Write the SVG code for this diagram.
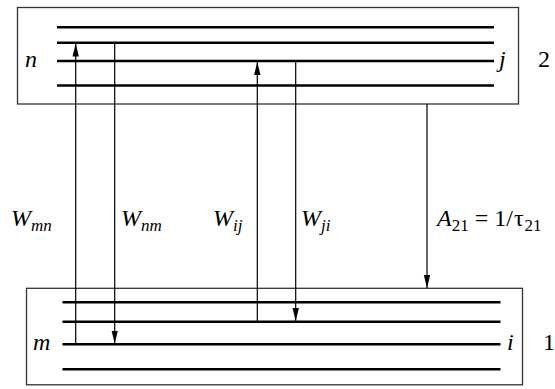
<svg xmlns="http://www.w3.org/2000/svg" width="555" height="389" viewBox="0 0 555 389">
<style>
.box{fill:#fff;stroke:#333;stroke-width:1.3}
.lvl{stroke:#000;stroke-width:2.6}
.arr{stroke:#000;stroke-width:1.2;fill:none}
.t{font-family:"Liberation Serif","DejaVu Serif","Noto Serif",serif;fill:#000}
.it{font-style:italic;font-size:24px}
.num{font-size:24px;font-style:normal}
.sub{font-size:17px}
</style>
<defs>
<marker id="ah" markerUnits="userSpaceOnUse" markerWidth="14" markerHeight="8" viewBox="-13 -4 14 8" refX="0" refY="0" orient="auto">
<path d="M0,0 L-13,-3.2 L-13,3.2 Z" fill="#000"/>
</marker>
</defs>
<g id="level2">
<rect class="box" x="17.5" y="7.5" width="501" height="96.5"/>
<line class="lvl" x1="57" y1="27.3" x2="494" y2="27.3"/>
<line class="lvl" x1="57" y1="42.7" x2="494" y2="42.7"/>
<line class="lvl" x1="57" y1="61" x2="494" y2="61"/>
<line class="lvl" x1="57" y1="85.5" x2="494" y2="85.5"/>
<text class="t it" x="25" y="67">n</text>
<text class="t it" x="499" y="67">j</text>
<text class="t num" x="538" y="67">2</text>
</g>
<g id="level1">
<rect class="box" x="26.5" y="288.3" width="496" height="96.5"/>
<line class="lvl" x1="62.5" y1="302.3" x2="500.5" y2="302.3"/>
<line class="lvl" x1="62.5" y1="321.7" x2="500.5" y2="321.7"/>
<line class="lvl" x1="62.5" y1="344.3" x2="500.5" y2="344.3"/>
<line class="lvl" x1="62.5" y1="369.3" x2="500.5" y2="369.3"/>
<text class="t it" x="33" y="350">m</text>
<text class="t it" x="507" y="350">i</text>
<text class="t num" x="543" y="350">1</text>
</g>
<g id="connectors">
<line class="arr" x1="75.7" y1="344.3" x2="75.7" y2="43.5" marker-end="url(#ah)"/>
<line class="arr" x1="114.7" y1="42.7" x2="114.7" y2="343.5" marker-end="url(#ah)"/>
<line class="arr" x1="257.3" y1="321.7" x2="257.3" y2="62" marker-end="url(#ah)"/>
<line class="arr" x1="295.7" y1="61" x2="295.7" y2="321" marker-end="url(#ah)"/>
<line class="arr" x1="427" y1="104" x2="427" y2="288" marker-end="url(#ah)"/>
</g>
<g id="labels">
<text class="t it" x="11" y="226">W<tspan class="sub" dy="5">mn</tspan></text>
<text class="t it" x="121" y="226">W<tspan class="sub" dy="5">nm</tspan></text>
<text class="t it" x="213" y="226">W<tspan class="sub" dy="5">ij</tspan></text>
<text class="t it" x="301" y="226">W<tspan class="sub" dy="5">ji</tspan></text>
<text class="t" x="437" y="226"><tspan class="it">A</tspan><tspan class="sub" dy="5">21</tspan><tspan class="num" dx="6" dy="-5">=</tspan><tspan class="num" dx="6">1/</tspan><tspan class="num" dx="1">τ</tspan><tspan class="sub" dx="1" dy="5">21</tspan></text>
</g>
</svg>
